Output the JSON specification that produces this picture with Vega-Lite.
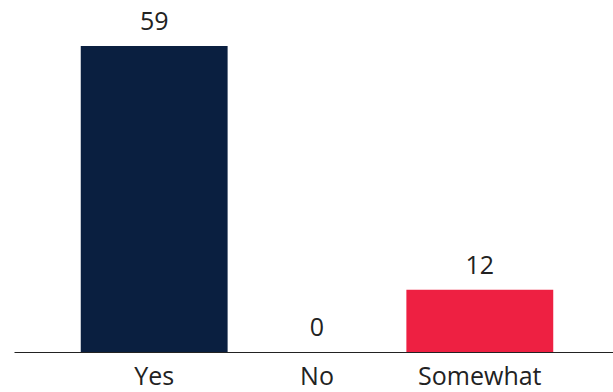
{
  "$schema": "https://vega.github.io/schema/vega-lite/v6.json",
  "width": 606,
  "height": 306,
  "autosize": {"type": "none"},
  "padding": {"left": 14, "top": 46, "right": 0, "bottom": 40},
  "background": "white",
  "config": {"view": {"stroke": null}, "font": "Open Sans"},
  "data": {"values": [
    {"answer": "Yes", "count": 59},
    {"answer": "No", "count": 0},
    {"answer": "Somewhat", "count": 12}
  ]},
  "encoding": {
    "x": {"field": "answer", "type": "nominal", "sort": null,
      "scale": {"paddingInner": 0.098, "paddingOuter": 0.41},
      "axis": {"title": null, "labelAngle": 0, "ticks": false, "domainColor": "#222222", "domainWidth": 1,
        "labelFont": "Open Sans", "labelFontSize": 25, "labelColor": "#222222", "labelBaseline": "alphabetic", "labelPadding": 32}},
    "y": {"field": "count", "type": "quantitative", "scale": {"domain": [0, 59], "nice": false}, "axis": null}
  },
  "layer": [
    {"mark": {"type": "bar"},
     "encoding": {"color": {"field": "answer", "type": "nominal", "legend": null,
       "scale": {"domain": ["Yes", "No", "Somewhat"], "range": ["#0a1f40", "#888888", "#ee2042"]}}}},
    {"mark": {"type": "text", "baseline": "alphabetic", "dy": -16, "fontSize": 25, "font": "Open Sans", "color": "#222222"},
     "encoding": {"text": {"field": "count", "type": "quantitative"}}}
  ]
}
